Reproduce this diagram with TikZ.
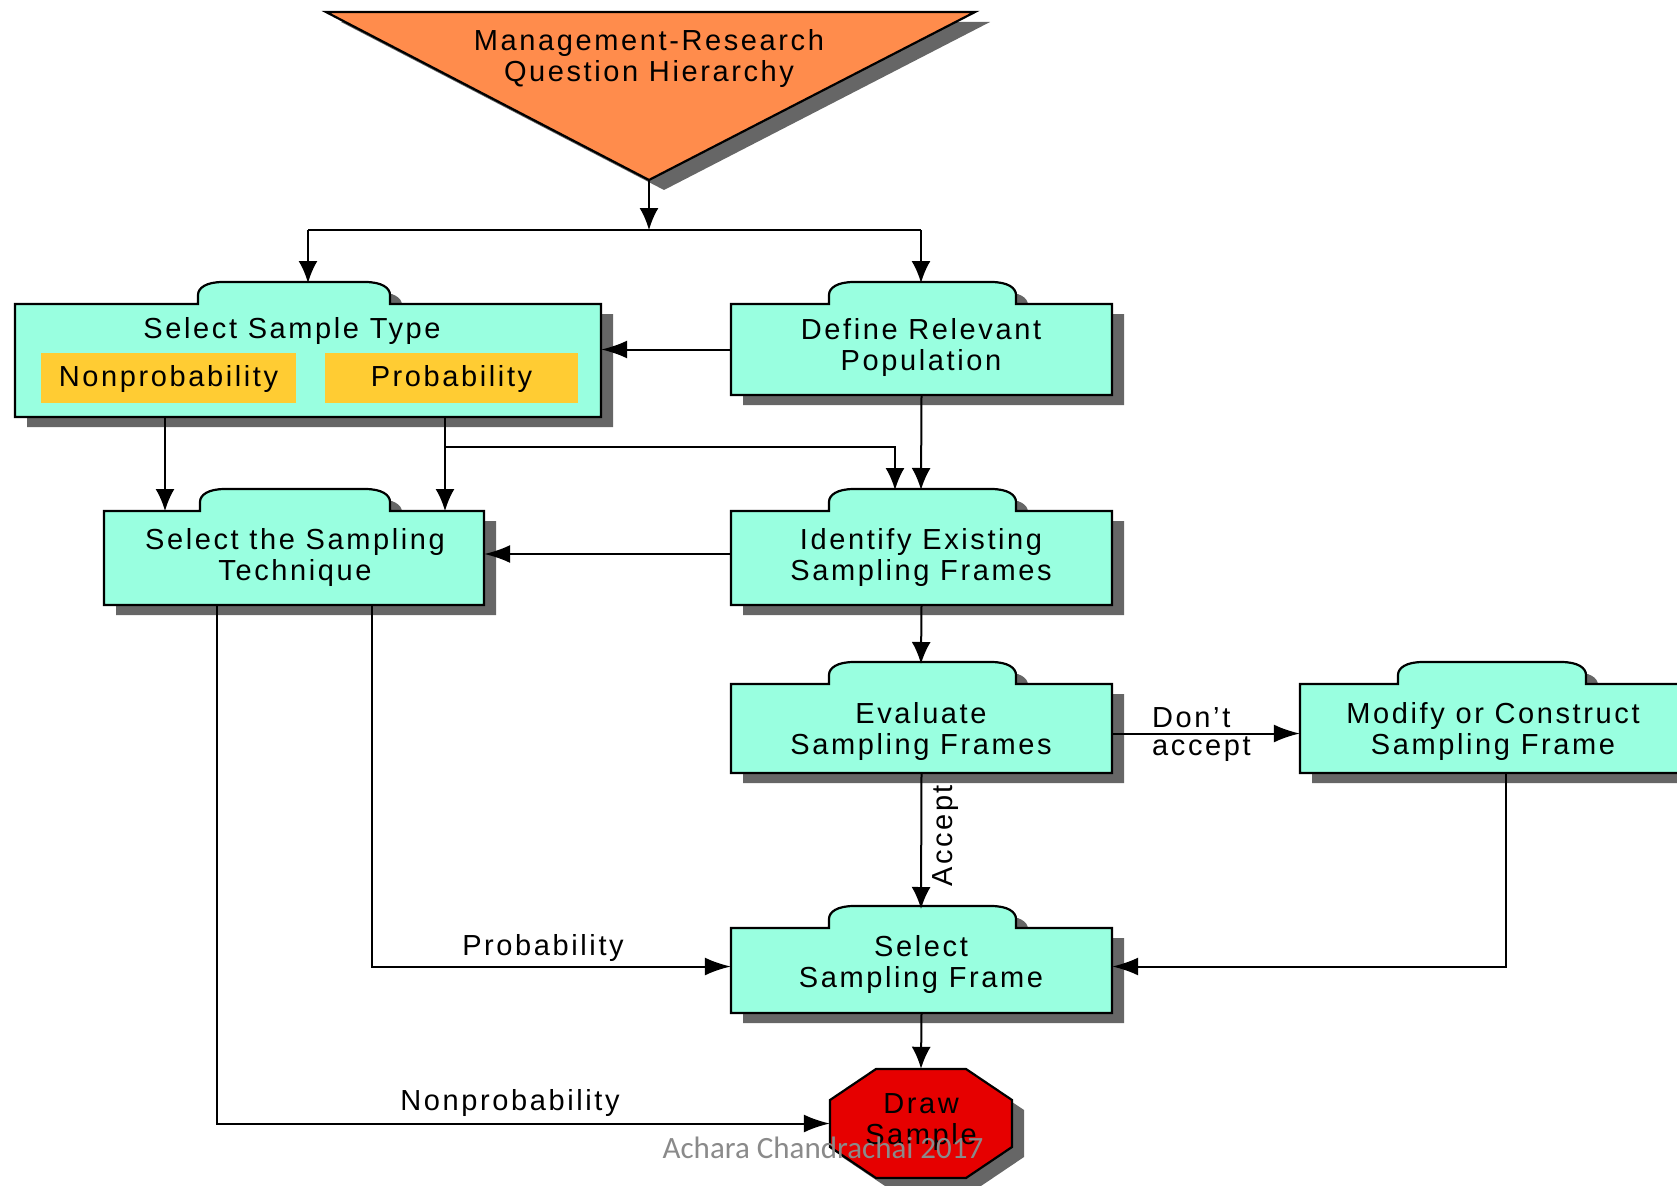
\documentclass[tikz,border=0pt]{standalone}
\usepackage{fontspec}
\newfontfamily\chartfont[LetterSpace=9]{Liberation Sans}
\newfontfamily\markfont{Carlito}
\usetikzlibrary{arrows.meta}

\definecolor{boxfill}{RGB}{153,255,224}
\definecolor{typefill}{RGB}{255,204,51}
\definecolor{topfill}{RGB}{255,140,76}
\definecolor{stopfill}{RGB}{230,0,0}
\definecolor{shadowgray}{RGB}{102,102,102}
\definecolor{markgray}{RGB}{138,138,138}

\tikzset{
  boxline/.style={draw=black, line width=2.2pt, fill=boxfill},
  shadowfill/.style={fill=shadowgray, draw=none},
  txt/.style={font=\chartfont\fontsize{29}{31}\selectfont, align=center, inner sep=0pt},
  anchorbox/.style={inner sep=0pt, draw=none},
  conn/.style={line width=2pt, draw=black},
  arrv/.style={conn, -{Latex[length=22pt,width=19pt]}},
  arrh/.style={conn, -{Latex[length=26pt,width=18pt]}},
}

% tabbed box: #1 name, #2 left, #3 top of body, #4 right, #5 bottom, #6 tab left, #7 tab right
\newcommand\tabbedbox[7]{%
  \path[shadowfill, shift={(12,10)}]
    (#2,#3) -- (#6,#3) -- (#6,#3-9)
    .. controls (#6,#3-16) and (#6+8,#3-22) .. (#6+25,#3-22)
    -- (#7-25,#3-22)
    .. controls (#7-8,#3-22) and (#7,#3-16) .. (#7,#3-9)
    -- (#7,#3) -- (#4,#3) -- (#4,#5) -- (#2,#5) -- cycle;
  \path[boxline]
    (#2,#3) -- (#6,#3) -- (#6,#3-9)
    .. controls (#6,#3-16) and (#6+8,#3-22) .. (#6+25,#3-22)
    -- (#7-25,#3-22)
    .. controls (#7-8,#3-22) and (#7,#3-16) .. (#7,#3-9)
    -- (#7,#3) -- (#4,#3) -- (#4,#5) -- (#2,#5) -- cycle;
  \node[anchorbox, minimum width={(#4-#2)*1pt}, minimum height={(#5-#3)*1pt}]
    (#1) at ({(#2+#4)/2},{(#3+#5)/2}) {};
}

\begin{document}
\begin{tikzpicture}[x=1pt, y=-1pt]
\useasboundingbox (0,0) rectangle (1677,1185);
\clip (0,0) rectangle (1677,1185);

% top triangle
\path[shadowfill] (341,22) -- (990,22) -- (664,190) -- cycle;
\draw[line width=2.2pt, fill=topfill] (326,12) -- (975,12) -- (649,180) -- cycle;
\coordinate (apex) at (649,180);
\node[txt] (mrq) at (649,59) {Management-Research\\Question Hierarchy};

% boxes
\tabbedbox{sst}{15}{304}{601}{417}{198}{390}
\tabbedbox{drp}{731}{304}{1112}{395}{829}{1016}
\tabbedbox{tech}{104}{511}{484}{605}{200}{390}
\tabbedbox{ief}{731}{511}{1112}{605}{829}{1016}
\tabbedbox{esf}{731}{684}{1112}{773}{829}{1016}
\tabbedbox{mcf}{1300}{684}{1681}{773}{1398}{1586}
\tabbedbox{ssf}{731}{928}{1112}{1013}{829}{1016}

% sample type options
\node[txt] (ssttitle) at (292,331) {Select Sample Type};
\node[anchorbox, fill=typefill, minimum width=255pt, minimum height=50pt] (nonp) at (168.5,378) {};
\node[anchorbox, fill=typefill, minimum width=253pt, minimum height=50pt] (prob) at (451.5,378) {};
\node[txt] at ([yshift=-1pt]nonp.center) {Nonprobability};
\node[txt] at ([yshift=-1pt]prob.center) {Probability};

% box texts
\node[txt] at (921,347) {Define Relevant\\Population};
\node[txt] at (295,557) {Select the Sampling\\Technique};
\node[txt] at (921,557) {Identify Existing\\Sampling Frames};
\node[txt] at (921,731) {Evaluate\\Sampling Frames};
\node[txt] at (1493,731) {Modify or Construct\\Sampling Frame};
\node[txt] at (921,964) {Select\\Sampling Frame};

% draw sample octagon
\path[shadowfill] (888,1079) -- (978,1079) -- (1024,1110) -- (1024,1157) -- (978,1188) -- (888,1188) -- (842,1157) -- (842,1110) -- cycle;
\draw[line width=2.2pt, fill=stopfill] (876,1069) -- (966,1069) -- (1012,1100) -- (1012,1147) -- (966,1178) -- (876,1178) -- (830,1147) -- (830,1100) -- cycle;
\node[anchorbox, minimum width=182pt, minimum height=109pt] (ds) at (921,1123.5) {};
\node[txt] at (921,1122) {Draw\\Sample};

% connector points
\coordinate (split) at (649,230);
\coordinate (jl) at (308,230);
\coordinate (jr) at (921,230);
\coordinate (ssttab) at (308,283);
\coordinate (drptab) at (921,283);
\coordinate (nonpout) at (165,417);
\coordinate (nonpin) at (165,511);
\coordinate (probout) at (445,417);
\coordinate (probin) at (445,511);
\coordinate (probsplit) at (445,447);
\coordinate (probturn) at (895,447);
\coordinate (ieftabl) at (895,490);
\coordinate (ieftab) at (921,490);
\coordinate (esftab) at (921,664);
\coordinate (ssftab) at (921,909);
\coordinate (mcfout) at (1506,773);
\coordinate (techp) at (372,605);
\coordinate (technp) at (217,605);

% connectors
\draw[arrv] (apex) -- (split);
\draw[conn] (jl) -- (jr);
\draw[arrv] (jl) -- (ssttab);
\draw[arrv] (jr) -- (drptab);
\draw[arrh] (drp.west) -- (drp.west -| sst.east);
\draw[arrv] (drp.south) -- (ieftab);
\draw[arrv] (nonpout) -- (nonpin);
\draw[arrv] (probout) -- (probin);
\draw[arrv] (probsplit) -- (probturn) -- (ieftabl);
\draw[arrh] ([yshift=4pt]ief.west) -- ([yshift=4pt]ief.west -| tech.east);
\draw[arrv] (ief.south) -- (esftab);
\draw[arrh] ([yshift=-5pt]esf.east) -- ([yshift=-5pt]esf.east -| mcf.west);
\draw[arrv] (esf.south) -- (ssftab);
\draw[arrh] (mcfout) |- ([yshift=4pt]ssf.east);
\draw[arrh] (techp) |- ([yshift=4pt]ssf.west);
\draw[arrh] (technp) |- (ds.west);
\draw[arrv] (ssf.south) -- (ds.north);

% connector labels
\node[txt, anchor=west] (dont) at (1152,718) {Don’t};
\node[txt, anchor=west] (acc) at (1152,749) {accept};
\node[txt, rotate=90] (accept) at (946,836) {Accept};
\node[txt] (plabel) at (543,948) {Probability};
\node[txt] (nplabel) at (510,1103) {Nonprobability};

% credit line
\node[font=\markfont\fontsize{31}{33}\selectfont, text=markgray, inner sep=0pt] (credit) at (823,1148) {Achara Chandrachai 2017};
\end{tikzpicture}
\end{document}
